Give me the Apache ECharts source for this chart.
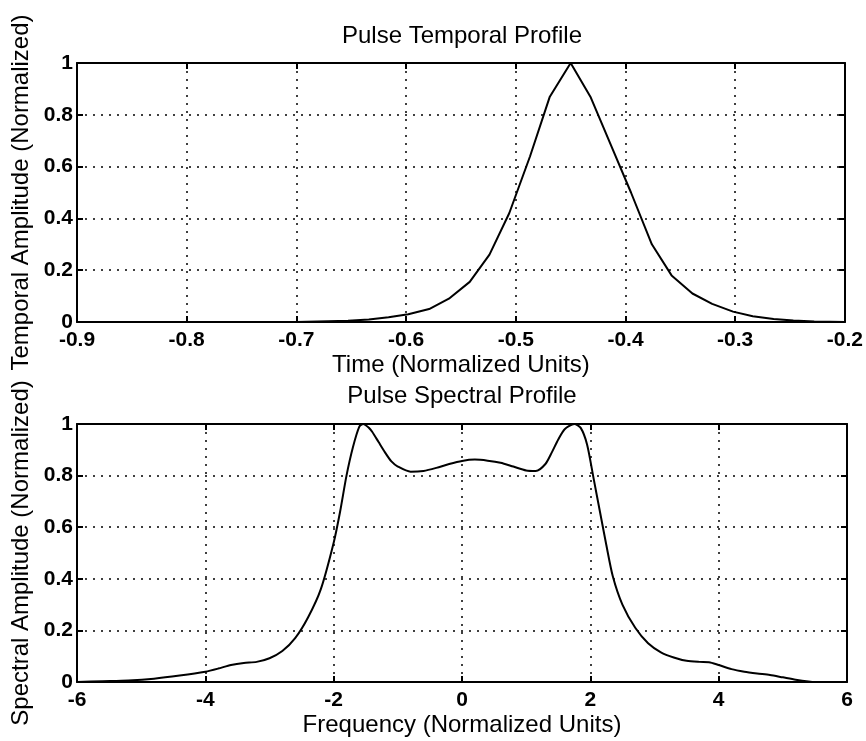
<!DOCTYPE html>
<html>
<head>
<meta charset="utf-8">
<script src="https://cdn.jsdelivr.net/npm/echarts@6/dist/echarts.min.js"></script>
<style>
  html, body { margin: 0; padding: 0; background: #fff; }
  #chart { width: 866px; height: 741px; }
</style>
</head>
<body>
<div id="chart"></div>
<script>
// temporal profile (time in normalized units, amplitude normalized)
const timeVals = [-0.9, -0.8, -0.7, -0.671, -0.653, -0.634, -0.616, -0.598, -0.579, -0.561, -0.542, -0.524,
  -0.506, -0.487, -0.469, -0.450, -0.432, -0.413, -0.395, -0.376, -0.358, -0.339, -0.321, -0.302,
  -0.284, -0.265, -0.247, -0.228, -0.2];
const temporalAmp = [0, 0, 0, 0.003, 0.005, 0.01, 0.018, 0.03, 0.05, 0.09, 0.155, 0.26,
  0.42, 0.64, 0.87, 1.0, 0.87, 0.68, 0.50, 0.30, 0.18, 0.11, 0.07, 0.04,
  0.022, 0.012, 0.006, 0.002, 0];

// spectral profile
const freqVals = [-6.0, -5.6, -5.2, -4.8, -4.4, -4.0, -3.8, -3.6, -3.4, -3.2, -3.0, -2.8, -2.6, -2.4, -2.2,
  -2.0, -1.9, -1.8, -1.7, -1.6, -1.54, -1.45, -1.4, -1.3, -1.2, -1.1, -1.0, -0.8, -0.6, -0.4, -0.2,
  0.0, 0.2, 0.4, 0.6, 0.8, 1.0, 1.15, 1.3, 1.4, 1.5, 1.6, 1.75, 1.85, 1.95, 2.05, 2.15, 2.25, 2.35,
  2.5, 2.7, 2.9, 3.1, 3.3, 3.5, 3.7, 3.85, 4.0, 4.2, 4.4, 4.6, 4.8, 5.0, 5.2, 5.4, 5.5, 6.0];
const spectralAmp = [0, 0.003, 0.006, 0.013, 0.025, 0.04, 0.052, 0.066, 0.074, 0.078, 0.092, 0.12, 0.17, 0.25, 0.36,
  0.54, 0.66, 0.80, 0.91, 0.99, 1.0, 0.985, 0.97, 0.93, 0.89, 0.855, 0.835, 0.815, 0.818, 0.83, 0.845,
  0.857, 0.862, 0.858, 0.85, 0.835, 0.82, 0.818, 0.845, 0.89, 0.94, 0.98, 1.0, 0.985, 0.92, 0.79, 0.66, 0.53, 0.41,
  0.30, 0.21, 0.15, 0.115, 0.095, 0.082, 0.078, 0.077, 0.066, 0.05, 0.04, 0.033, 0.027, 0.018, 0.009, 0.002, 0, 0];

const timeAxis = { min: -0.9, max: -0.2, step: 0.1 };
const freqAxis = { min: -6, max: 6, step: 2 };
const ampAxis = { min: 0, max: 1, step: 0.2 };

const font = 'Liberation Sans, Arial, Helvetica, sans-serif';
const black = '#000';

function pairs(xs, ys) {
  return xs.map((x, i) => [x, ys[i]]);
}

function xAx(gi, range, name, main) {
  return {
    type: 'value', gridIndex: gi, min: range.min, max: range.max, interval: range.step,
    position: main ? 'bottom' : 'top',
    axisLine: { show: true, onZero: false, lineStyle: { color: black, width: 2 } },
    axisTick: { show: true, inside: true, length: 6, lineStyle: { color: black, width: 2 } },
    axisLabel: main ? { show: true, color: black, fontSize: 21, fontWeight: 'bold', fontFamily: font, margin: 8,
      showMinLabel: true, showMaxLabel: true } : { show: false },
    splitLine: main ? { show: true, lineStyle: { color: black, width: 1.5, type: [2, 6] } } : { show: false },
    name: main ? name : '', nameLocation: 'middle', nameGap: 31,
    nameTextStyle: { color: black, fontSize: 24, fontFamily: font }
  };
}

function yAx(gi, name, main) {
  return {
    type: 'value', gridIndex: gi, min: ampAxis.min, max: ampAxis.max, interval: ampAxis.step,
    position: main ? 'left' : 'right',
    axisLine: { show: true, onZero: false, lineStyle: { color: black, width: 2 } },
    axisTick: { show: true, inside: true, length: 6, lineStyle: { color: black, width: 2 } },
    axisLabel: main ? { show: true, color: black, fontSize: 21, fontWeight: 'bold', fontFamily: font, margin: 4,
      showMinLabel: true, showMaxLabel: true } : { show: false },
    splitLine: main ? { show: true, lineStyle: { color: black, width: 1.5, type: [2, 6] } } : { show: false },
    name: main ? name : '', nameLocation: 'middle', nameGap: 39,
    nameTextStyle: { color: black, fontSize: 24, fontFamily: font }
  };
}

const chart = echarts.init(document.getElementById('chart'), null, { renderer: 'canvas' });
chart.setOption({
  backgroundColor: '#fff',
  animation: false,
  title: [
    { text: 'Pulse Temporal Profile', left: 462, top: 24, textAlign: 'center', padding: 0,
      textStyle: { color: black, fontSize: 24, fontWeight: 'normal', fontFamily: font } },
    { text: 'Pulse Spectral Profile', left: 462, top: 384, textAlign: 'center', padding: 0,
      textStyle: { color: black, fontSize: 24, fontWeight: 'normal', fontFamily: font } }
  ],
  grid: [
    { left: 77, top: 63, width: 771, height: 259 },
    { left: 77, top: 424, width: 770, height: 258 }
  ],
  xAxis: [
    xAx(0, timeAxis, 'Time (Normalized Units)', true),
    xAx(0, timeAxis, '', false),
    xAx(1, freqAxis, 'Frequency (Normalized Units)', true),
    xAx(1, freqAxis, '', false)
  ],
  yAxis: [
    yAx(0, 'Temporal Amplitude (Normalized)', true),
    yAx(0, '', false),
    yAx(1, 'Spectral Amplitude (Normalized)', true),
    yAx(1, '', false)
  ],
  series: [
    {
      type: 'line', xAxisIndex: 0, yAxisIndex: 0, data: pairs(timeVals, temporalAmp),
      showSymbol: false, lineStyle: { color: black, width: 2 }
    },
    {
      type: 'line', xAxisIndex: 2, yAxisIndex: 2, data: pairs(freqVals, spectralAmp),
      showSymbol: false, smooth: 0.25, lineStyle: { color: black, width: 2 }
    }
  ]
});
</script>
</body>
</html>
